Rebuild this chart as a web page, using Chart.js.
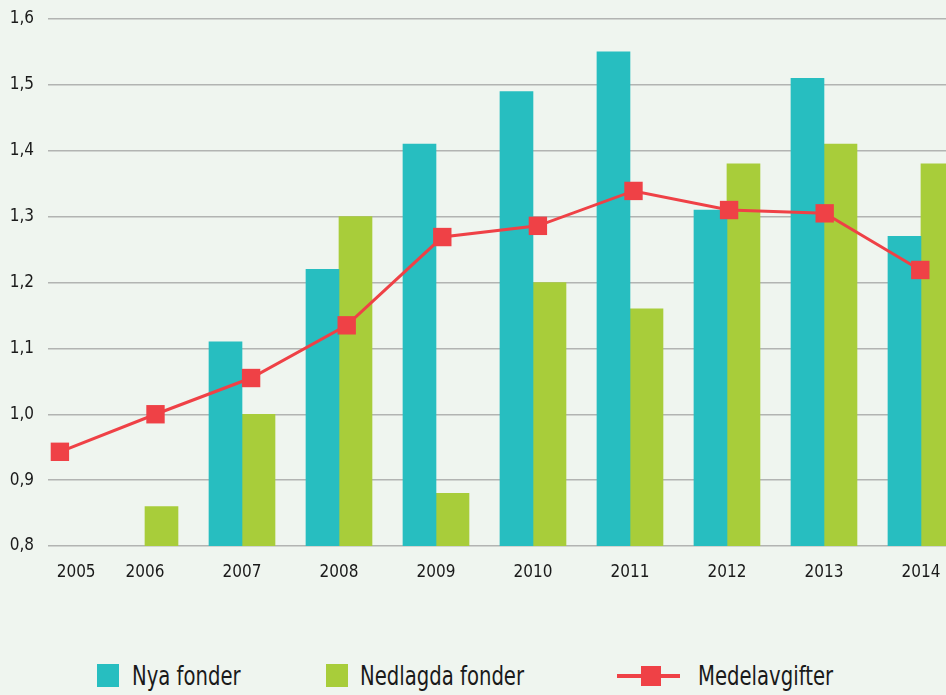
<!DOCTYPE html>
<html lang="sv">
  <head>
    <meta charset="UTF-8" />
    <title>Nya och nedlagda fonder</title>
    <script src="https://cdn.jsdelivr.net/npm/chart.js"></script>
    <style>
      html, body {
        margin: 0;
        padding: 0;
        background-color: #eff5ef;
        overflow: hidden;
      }
      #wrap {
        position: relative;
        width: 946px;
        height: 695px;
        font-family: "Liberation Sans Narrow", "DejaVu Sans Condensed", "Liberation Sans", sans-serif;
        color: #1a1a1a;
      }
      #chartBox {
        position: absolute;
        left: 0;
        top: 0;
        width: 946px;
        height: 591px;
      }
      .item {
        position: absolute;
        top: 662px;
        height: 28px;
        font-size: 26px;
        line-height: 28px;
        white-space: nowrap;
        transform: scaleX(0.84);
        transform-origin: left center;
      }
      .box {
        position: absolute;
        top: 664px;
        width: 22px;
        height: 23px;
      }
      .lineKey {
        position: absolute;
        left: 617px;
        top: 674px;
        width: 63px;
        height: 4px;
        background: #ef4146;
      }
      .lineKey span {
        position: absolute;
        left: 24px;
        top: -8px;
        width: 20px;
        height: 20px;
        background: #ef4146;
      }
    </style>
  </head>
  <body>
    <div id="wrap">
      <div id="chartBox"><canvas id="fondChart"></canvas></div>
      <div class="box" style="left: 97px; background: #27bec0"></div>
      <div class="item" style="left: 132px">Nya fonder</div>
      <div class="box" style="left: 326px; background: #a8cd3a"></div>
      <div class="item" style="left: 360px">Nedlagda fonder</div>
      <div class="lineKey"><span></span></div>
      <div class="item" style="left: 698px">Medelavgifter</div>
    </div>
    <script>
      const years = ["2005", "2006", "2007", "2008", "2009", "2010", "2011", "2012", "2013", "2014"];
      const nyaFonder = [null, null, 1.11, 1.22, 1.41, 1.49, 1.55, 1.31, 1.51, 1.27];
      const nedlagdaFonder = [null, 0.86, 1.0, 1.3, 0.88, 1.2, 1.16, 1.38, 1.41, 1.38];
      const medelavgifter = [0.943, 1.0, 1.055, 1.135, 1.269, 1.286, 1.339, 1.31, 1.305, 1.219];
      const yTicks = [0.8, 0.9, 1.0, 1.1, 1.2, 1.3, 1.4, 1.5, 1.6];

      const toPoints = (arr) => arr.map((v, i) => ({ x: i, y: v }));
      const axisFont = {
        family: '"Liberation Sans Narrow", "DejaVu Sans Condensed", "Liberation Sans", sans-serif',
        size: 17,
      };

      new Chart(document.getElementById("fondChart"), {
        type: "bar",
        data: {
          datasets: [
            {
              type: "line",
              label: "Medelavgifter",
              data: toPoints(medelavgifter),
              xAxisID: "x2",
              borderColor: "#ef4146",
              backgroundColor: "#ef4146",
              borderWidth: 3,
              pointStyle: "rect",
              pointRadius: 13,
              pointHoverRadius: 13,
              pointBorderWidth: 0,
              tension: 0,
              clip: false,
              order: 0,
            },
            {
              label: "Nya fonder",
              data: toPoints(nyaFonder),
              backgroundColor: "#27bec0",
              barThickness: 33,
              order: 1,
            },
            {
              label: "Nedlagda fonder",
              data: toPoints(nedlagdaFonder),
              backgroundColor: "#a8cd3a",
              barThickness: 33,
              order: 1,
            },
          ],
        },
        options: {
          responsive: true,
          maintainAspectRatio: false,
          animation: false,
          layout: {
            autoPadding: false,
            padding: { top: 19, right: 0, bottom: 0, left: 0 },
          },
          plugins: {
            legend: { display: false },
            tooltip: { enabled: false },
          },
          scales: {
            x: {
              type: "linear",
              offset: false,
              min: 0,
              max: 9.258,
              grid: { display: false },
              border: { display: false },
              afterBuildTicks: (scale) => {
                // first label sits inside the plot, not at the edge
                scale.ticks = years.map((y, i) => ({ value: i === 0 ? 0.29 : i }));
              },
              afterFit: (scale) => {
                scale.height = 45;
                scale.paddingLeft = 0;
                scale.paddingRight = 0;
              },
              ticks: {
                color: "#1a1a1a",
                font: axisFont,
                padding: 8,
                maxRotation: 0,
                autoSkip: false,
                callback: (value, index) => years[index],
              },
            },
            // the line series is spaced a little tighter than the bars
            x2: {
              type: "linear",
              display: false,
              offset: false,
              min: -0.1245,
              max: 9.269,
            },
            y: {
              min: 0.8,
              max: 1.6,
              afterBuildTicks: (scale) => {
                scale.ticks = yTicks.map((v) => ({ value: v }));
              },
              afterFit: (scale) => {
                scale.width = 48;
                scale.paddingTop = 0;
                scale.paddingBottom = 0;
              },
              grid: {
                color: "#b2b4b2",
                lineWidth: 1.5,
                drawTicks: false,
              },
              border: { display: false },
              ticks: {
                color: "#1a1a1a",
                font: axisFont,
                padding: 14,
                callback: (value) => value.toFixed(1).replace(".", ","),
              },
            },
          },
        },
      });
    </script>
  </body>
</html>
